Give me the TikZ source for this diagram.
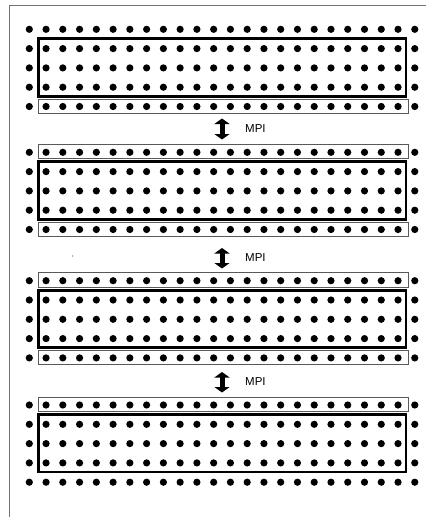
\documentclass[tikz,border=0pt]{standalone}
\usepackage{fontspec}
\setmainfont{Liberation Sans}
\usetikzlibrary{arrows.meta}
\begin{document}
\begin{tikzpicture}[x=1pt,y=-1pt,
  dotc/.style={fill=black},
  thickbox/.style={draw=black,line width=2.8pt},
  thinbox/.style={draw=black!65,line width=0.9pt},
  frameline/.style={draw=black!55,line width=1pt},
  mpiarrow/.style={line width=5pt,{Triangle[width=15pt,length=5.5pt]}-{Triangle[width=15pt,length=5.5pt]}},
  lbl/.style={font=\fontsize{11.5}{12}\selectfont,anchor=west,inner sep=0pt}]
\useasboundingbox (0,0) rectangle (426,517);
\draw[frameline] (9,517) -- (9,5) -- (426,5);
% blocks: Y / has top thin box / has bottom thin box
\foreach \Y/\tt/\bb in {29.3/0/1, 152.3/1/1, 280.7/1/1, 405/1/0} {
  \foreach \r in {0,...,4} {
    \foreach \c in {0,...,23} {
      \fill[dotc] ({29.3+\c*16.76},{\Y+\r*19.3}) circle (3.6pt);
    }
  }
  \draw[thickbox] (38.5,{\Y+9.5}) rectangle (406,{\Y+67});
  \ifnum\tt=1 \draw[thinbox] (38.5,{\Y-8}) rectangle (408,{\Y+6.5}); \fi
  \ifnum\bb=1 \draw[thinbox] (38.5,{\Y+77.2-7.5}) rectangle (408,{\Y+77.2+7}); \fi
}
% MPI arrows
\coordinate (a1t) at (222,118.5); \coordinate (a1b) at (222,139.5);
\coordinate (a2t) at (222,248);   \coordinate (a2b) at (222,268.5);
\coordinate (a3t) at (222,372);   \coordinate (a3b) at (222,392.5);
\draw[mpiarrow] (a1t) -- (a1b);
\draw[mpiarrow] (a2t) -- (a2b);
\draw[mpiarrow] (a3t) -- (a3b);
\node[lbl] (m1) at (245,128.5) {MPI};
\node[lbl] (m2) at (245,258) {MPI};
\node[lbl] (m3) at (245,382) {MPI};
\fill[black!70] (72.7,256) circle (0.6pt);
\end{tikzpicture}
\end{document}
